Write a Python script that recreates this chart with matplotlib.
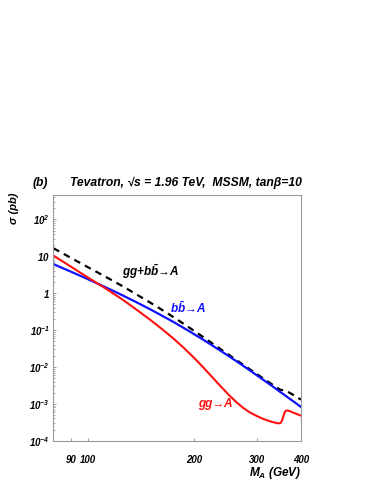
import matplotlib
matplotlib.use('Agg')
import matplotlib.pyplot as plt
from matplotlib.ticker import FixedLocator, LogLocator, NullFormatter

# cross sections (pb), M_A in GeV
mass_ma = [80, 90, 100, 112, 125, 137, 150, 162, 175, 187, 200, 212, 225, 237, 250,
           262, 275, 287, 300, 312, 325, 337, 350, 362, 375, 387, 400]
sigma_bb = [6.17, 3.78, 2.42, 1.47, 0.889, 0.575, 0.367, 0.247, 0.164, 0.113, 0.0769,
            0.0546, 0.0380, 0.0276, 0.0197, 0.0146, 0.0107, 0.00803, 0.00597, 0.00458,
            0.00348, 0.00271, 0.00208, 0.00165, 0.00129, 0.00104, 0.00082]
sigma_total = [16.6, 8.92, 5.11, 2.84, 1.58, 0.940, 0.559, 0.355, 0.222, 0.146, 0.0943,
               0.0643, 0.0432, 0.0306, 0.0215, 0.0157, 0.0114, 0.00861, 0.00644, 0.00498,
               0.00382, 0.00302, 0.00239, 0.00230, 0.00189, 0.00157, 0.00130]

mass_gg = [80, 90, 100, 112, 125, 137, 150, 162, 175, 187, 200, 212, 225, 237, 250,
           262, 275, 287, 300, 312, 325, 337, 345, 350, 353, 356, 359, 362, 366, 372,
           385, 400]
sigma_gg = [10.5, 5.14, 2.69, 1.37, 0.687, 0.365, 0.191, 0.107, 0.0579, 0.0325, 0.0174,
            0.0097, 0.00522, 0.00303, 0.00176, 0.00114, 0.00077, 0.000583, 0.000468,
            0.000394, 0.000343, 0.000310, 0.000295, 0.000302, 0.000339, 0.000427,
            0.000562, 0.000646, 0.000661, 0.000631, 0.000550, 0.000479]

x_ticks = [90, 100, 200, 300, 400]
x_labels = ['90', '100', '200', '300', '400']
y_ticks = [1e-4, 1e-3, 1e-2, 1e-1, 1, 10, 100]
y_labels = [r'$10^{-4}$', r'$10^{-3}$', r'$10^{-2}$', r'$10^{-1}$',
            r'$1\,\,$', r'$10\,\,$', r'$10^{2}$']

plt.rcParams['font.family'] = ['Liberation Sans', 'DejaVu Sans']
plt.rcParams['font.weight'] = 'bold'
plt.rcParams['font.style'] = 'italic'
plt.rcParams['mathtext.fontset'] = 'custom'
plt.rcParams['mathtext.rm'] = 'Liberation Sans:bold:italic'
plt.rcParams['mathtext.it'] = 'Liberation Sans:bold:italic'
plt.rcParams['mathtext.bf'] = 'Liberation Sans:bold:italic'

fig = plt.figure(figsize=(3.82, 4.94), dpi=100)
ax = fig.add_axes([53.3 / 382, 53.3 / 494, 247.7 / 382, 245.7 / 494])

ax.plot(mass_ma, sigma_total, color='black', lw=1.6, dashes=(3, 2.4))
ax.plot(mass_ma, sigma_bb, color='#1010ff', lw=1.6)
ax.plot(mass_gg, sigma_gg, color='#ff1010', lw=1.5)

ax.set_xscale('log')
ax.set_yscale('log')
ax.set_xlim(80, 400)
ax.set_ylim(1e-4, 460)

ax.xaxis.set_major_locator(FixedLocator(x_ticks))
ax.set_xticklabels(x_labels)
ax.xaxis.set_minor_formatter(NullFormatter())
ax.xaxis.set_minor_locator(FixedLocator([]))
ax.yaxis.set_major_locator(FixedLocator(y_ticks))
ax.set_yticklabels(y_labels)
ax.yaxis.set_minor_locator(LogLocator(base=10, subs=range(2, 10)))
ax.yaxis.set_minor_formatter(NullFormatter())

ax.tick_params(axis='both', which='major', direction='in', length=2.5, width=0.6,
               color='#888888', labelsize=7)
ax.tick_params(axis='both', which='minor', direction='in', length=1.4, width=0.5,
               color='#888888')
ax.tick_params(axis='x', pad=10)
ax.tick_params(axis='y', pad=2.5)
for s in ax.spines.values():
    s.set_color('#999999')
    s.set_linewidth(0.8)

# labels on the curves
ax.text(150, 3.8, r'gg+$b\bar{b}$→A', fontsize=8.5, color='black',
        ha='center', va='center')
ax.text(192, 0.40, r'$b\bar{b}$→A', fontsize=8.5, color='#1010ff',
        ha='center', va='center')
ax.text(229, 9.6e-4, 'gg→A', fontsize=8.5, color='#ff1010',
        ha='center', va='center')

# title line and axis titles
fig.text(33 / 382, 1 - 183 / 494, '(b)', fontsize=8.7, va='center', ha='left')
fig.text(70 / 382, 1 - 183 / 494, 'Tevatron, √s = 1.96 TeV,  MSSM, tanβ=10',
         fontsize=8.7, va='center', ha='left')
ax.text(1.0, -0.131, r'$M_A$ (GeV)', transform=ax.transAxes, fontsize=8.5,
        ha='right', va='center')
fig.text(14 / 382, 1 - 208 / 494, 'σ (pb)', rotation=90, fontsize=8,
         ha='center', va='center')

fig.savefig('out.png', dpi=100)
